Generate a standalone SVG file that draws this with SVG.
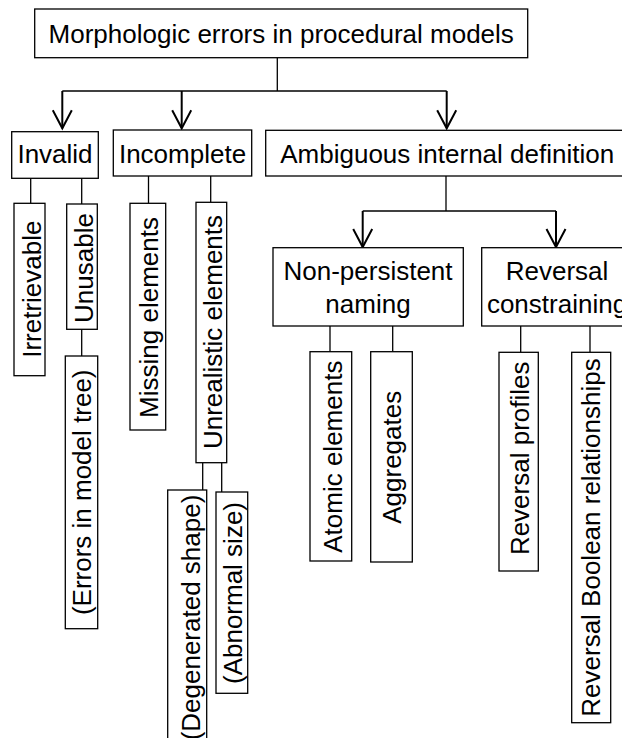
<svg xmlns="http://www.w3.org/2000/svg" width="622" height="738" viewBox="0 0 622 738">
<style>
rect.n{fill:#fff;stroke:#000;stroke-width:1.3}
text{font-family:"Liberation Sans",Arial,sans-serif;font-size:26px;fill:#000}
.h{text-anchor:middle}
.v{text-anchor:middle}
.c line,.c path{stroke:#000;fill:none}
.t{stroke-width:1.3}
.a{stroke-width:2}
</style>
<defs>
<marker id="arr" markerUnits="userSpaceOnUse" viewBox="-20 -12 22 24" markerWidth="22" markerHeight="24" refX="0" refY="0" orient="auto" overflow="visible">
<path d="M-18,-9.5 L0,0 L-18,9.5" fill="none" stroke="#000" stroke-width="2"/>
</marker>
</defs>
<rect width="622" height="738" fill="#fff"/>
<g class="c" id="connectors">
<line class="t" x1="277.3" y1="57.7" x2="277.3" y2="91"/>
<line class="t" x1="62.3" y1="91" x2="446.7" y2="91"/>
<line class="a" x1="62.3" y1="91" x2="62.3" y2="128.3" marker-end="url(#arr)"/>
<line class="a" x1="181.7" y1="91" x2="181.7" y2="128.3" marker-end="url(#arr)"/>
<line class="a" x1="446.7" y1="91" x2="446.7" y2="128.3" marker-end="url(#arr)"/>
<line class="t" x1="446" y1="176" x2="446" y2="211"/>
<line class="t" x1="362.7" y1="211" x2="556" y2="211"/>
<line class="a" x1="362.7" y1="211" x2="362.7" y2="247" marker-end="url(#arr)"/>
<line class="a" x1="556" y1="211" x2="556" y2="247" marker-end="url(#arr)"/>
<line class="t" x1="30.7" y1="178.3" x2="30.7" y2="203.3"/>
<line class="t" x1="81.7" y1="178.3" x2="81.7" y2="204"/>
<line class="t" x1="81.7" y1="329.3" x2="81.7" y2="356"/>
<line class="t" x1="148.5" y1="176" x2="148.5" y2="203.3"/>
<line class="t" x1="210.7" y1="176" x2="210.7" y2="202.3"/>
<line class="t" x1="202.7" y1="462.7" x2="202.7" y2="490"/>
<line class="t" x1="221.7" y1="462.7" x2="221.7" y2="492"/>
<line class="t" x1="330" y1="326" x2="330" y2="351.7"/>
<line class="t" x1="392.7" y1="326" x2="392.7" y2="351.7"/>
<line class="t" x1="520.7" y1="326" x2="520.7" y2="352.3"/>
<line class="t" x1="590" y1="326" x2="590" y2="352.3"/>
</g>
<g id="root"><rect class="n" x="34.7" y="9" width="493" height="48.7"/><text class="h" x="281.2" y="43.3">Morphologic errors in procedural models</text></g>
<g id="invalid"><rect class="n" x="11.7" y="131.7" width="86.6" height="46.6"/><text class="h" x="55" y="163.3">Invalid</text></g>
<g id="incomplete"><rect class="n" x="113.3" y="130" width="138.4" height="46"/><text class="h" x="182.5" y="163.3">Incomplete</text></g>
<g id="ambiguous"><rect class="n" x="265.7" y="130.3" width="363" height="45.7"/><text class="h" x="447.2" y="163.3">Ambiguous internal definition</text></g>
<g id="nonpersistent"><rect class="n" x="273" y="247.7" width="190.3" height="78.3"/><text class="h" x="368" y="280">Non-persistent</text><text class="h" x="368" y="312.5">naming</text></g>
<g id="reversal"><rect class="n" x="481.7" y="247.7" width="152" height="78.3"/><text class="h" x="557" y="280">Reversal</text><text class="h" x="557" y="312.5">constraining</text></g>
<g id="irretrievable"><rect class="n" x="14" y="203.3" width="31" height="172.4"/><text class="v" transform="translate(40.5,289.2) rotate(-90)">Irretrievable</text></g>
<g id="unusable"><rect class="n" x="66.7" y="204" width="30.6" height="125.3"/><text class="v" transform="translate(93,268) rotate(-90)">Unusable</text></g>
<g id="errors"><rect class="n" x="65.3" y="356" width="32.4" height="272.7"/><text class="v" transform="translate(90.5,492.3) rotate(-90)">(Errors in model tree)</text></g>
<g id="missing"><rect class="n" x="130" y="203.3" width="35.7" height="226.7"/><text class="v" transform="translate(157.5,317.5) rotate(-90)">Missing elements</text></g>
<g id="unrealistic"><rect class="n" x="196" y="202.3" width="30.7" height="260.4"/><text class="v" transform="translate(221.7,332) rotate(-90)">Unrealistic elements</text></g>
<g id="degenerated"><rect class="n" x="167.7" y="490" width="39" height="256"/><text class="v" transform="translate(199.5,617.5) rotate(-90)">(Degenerated shape)</text></g>
<g id="abnormal"><rect class="n" x="216" y="492" width="31.7" height="201.3"/><text class="v" transform="translate(241.5,593) rotate(-90)">(Abnormal size)</text></g>
<g id="atomic"><rect class="n" x="310" y="351.7" width="41.7" height="209.3"/><text class="v" transform="translate(341.5,456.7) rotate(-90)">Atomic elements</text></g>
<g id="aggregates"><rect class="n" x="370.7" y="351.7" width="41.6" height="210.3"/><text class="v" transform="translate(401,457.3) rotate(-90)">Aggregates</text></g>
<g id="revprofiles"><rect class="n" x="499" y="352.3" width="39.3" height="218.7"/><text class="v" transform="translate(528.5,458.3) rotate(-90)">Reversal profiles</text></g>
<g id="revboolean"><rect class="n" x="571.7" y="352.3" width="39" height="370.4"/><text class="v" transform="translate(600,537.5) rotate(-90)">Reversal Boolean relationships</text></g>
</svg>
